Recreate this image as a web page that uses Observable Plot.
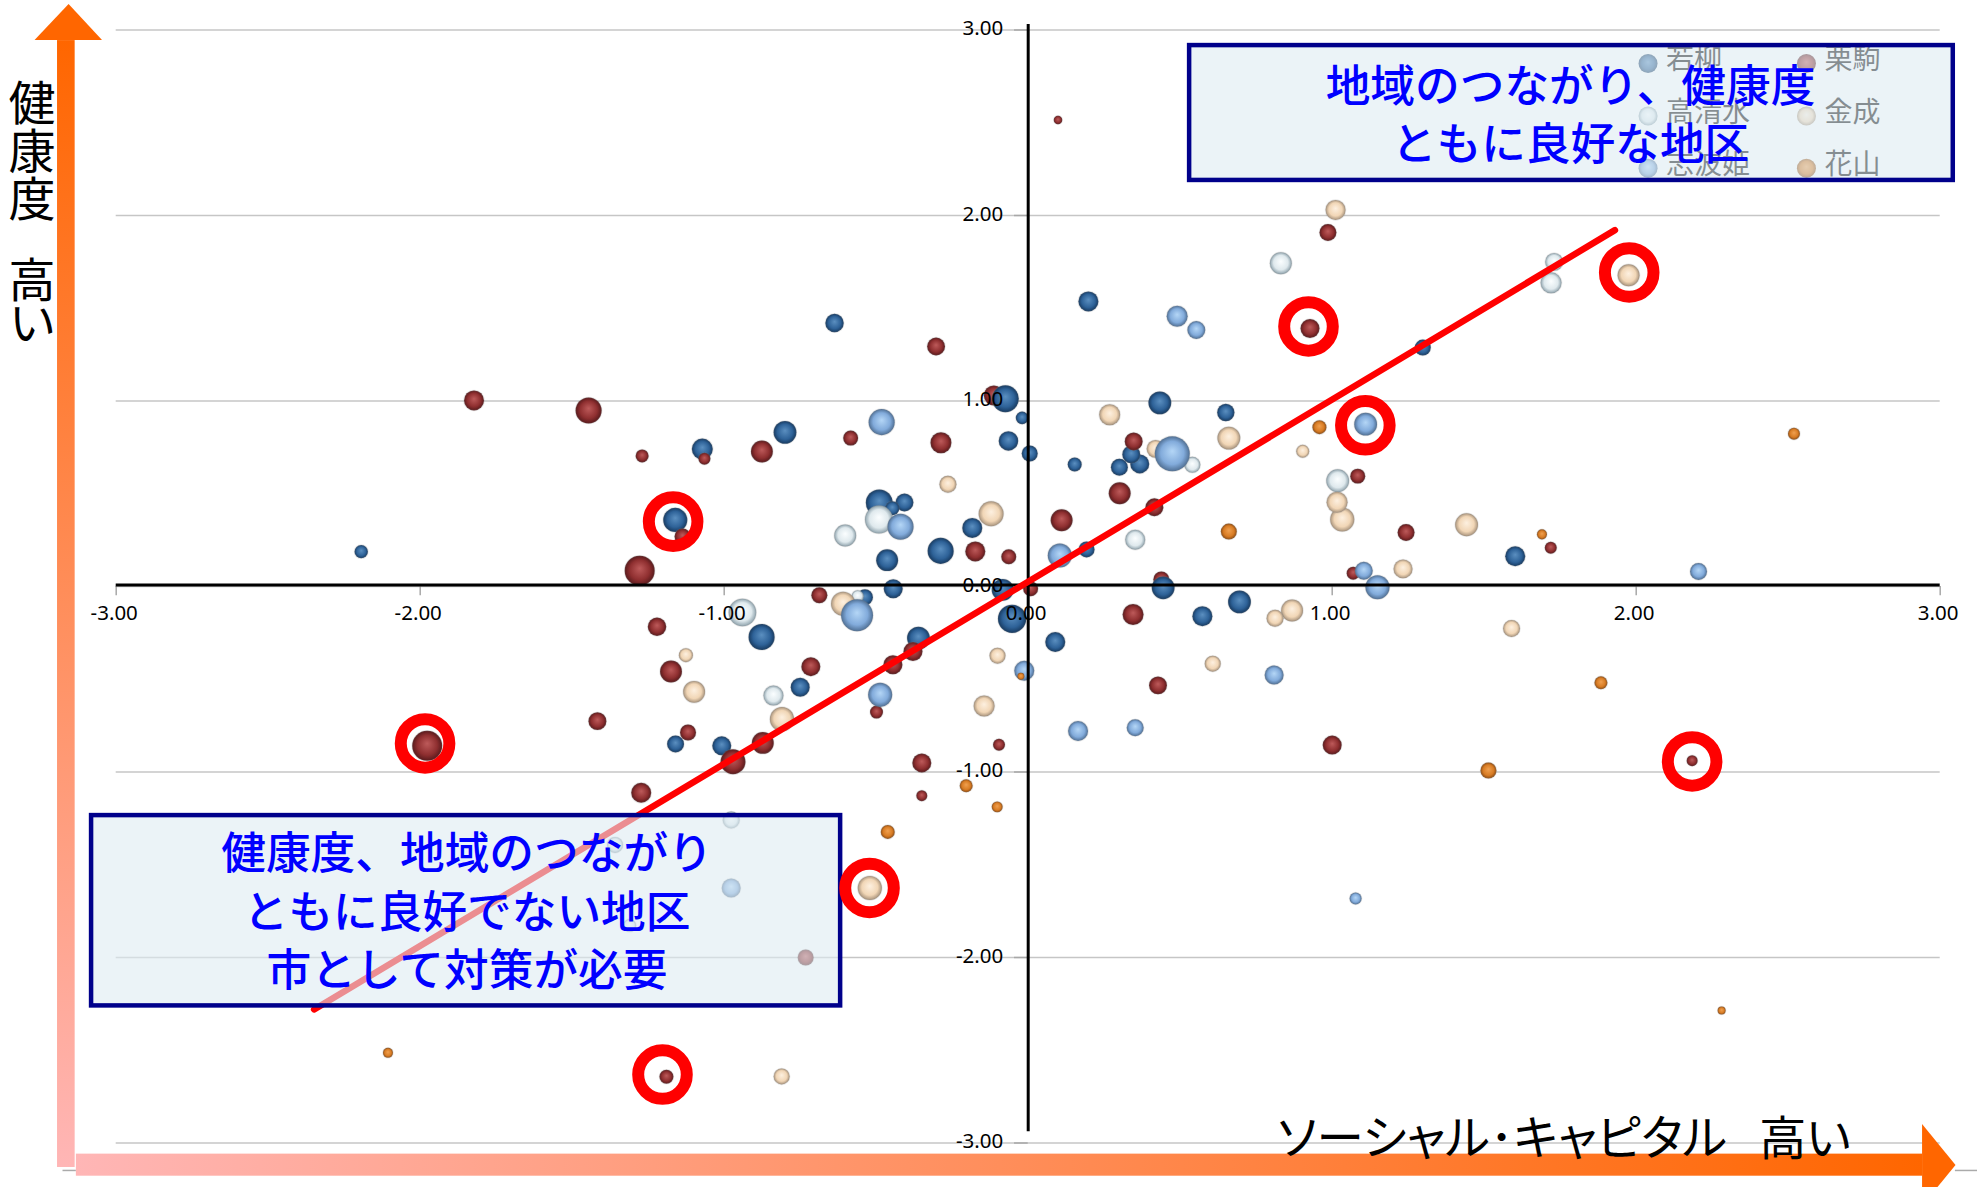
<!DOCTYPE html>
<html lang="ja">
<head>
<meta charset="utf-8">
<title>ソーシャル・キャピタルと健康度</title>
<style>
  html, body { margin: 0; padding: 0; background: #fff; }
  svg { display: block; }
</style>
<script src="https://cdn.jsdelivr.net/npm/d3@7"></script>
<script src="https://cdn.jsdelivr.net/npm/@observablehq/plot@0.6"></script>
</head>
<body>
<div id="chart"></div>
<script>
// Each district is [social capital score, health score, bubble size].
const wakayanagi = [
  [-2.194,0.188,45],[-0.637,1.42,85],[0.198,1.537,100],[-1.072,0.741,110],[-0.8,0.831,130],
  [-0.02,0.909,40],[-0.065,0.785,95],[0.005,0.717,64],[0.153,0.658,49],[0.433,0.99,130],
  [0.65,0.938,75],[0.339,0.712,80],[0.3,0.643,72],[0.367,0.661,90],[-0.49,0.451,180],
  [-0.407,0.453,80],[-0.447,0.422,49],[-0.184,0.316,100],[-0.288,0.192,170],[-0.464,0.142,120],
  [-0.444,-0.012,90],[-0.537,-0.058,64],[-0.084,-0.018,120],[-0.053,-0.174,200],[0.192,0.2,64],
  [0.695,-0.083,130],[0.573,-0.16,100],[1.298,1.288,64],[1.602,0.163,100],[-0.877,-0.272,170],
  [-0.75,-0.543,90],[-0.361,-0.278,130],[0.089,-0.299,100],[-1.16,-0.849,72],[-1.008,-0.859,90],
  [-1.161,0.359,145]
];
// Two Wakayanagi districts sit in front of the Kurikoma bubbles they overlap.
const wakayanagiFront = [[-0.075,1.012,180],[0.444,-0.007,130]];
const kurikoma = [
  [-1.823,1.003,100],[-1.446,0.949,170],[-1.27,0.704,42],[-1.278,0.085,225],[-1.065,0.689,36],
  [-0.876,0.728,120],[-0.584,0.8,56],[-0.287,0.775,110],[-0.303,1.294,80],[0.098,2.515,18],
  [-0.113,1.03,100],[-0.174,0.189,100],[-0.064,0.16,56],[-0.687,-0.047,64],[0.008,-0.012,56],
  [0.11,0.357,120],[0.347,0.782,80],[0.301,0.503,120],[0.415,0.427,80],[0.438,0.038,64],
  [0.345,-0.151,110],[1.084,0.595,56],[1.069,0.072,42],[0.927,1.391,90],[0.986,1.908,72],
  [1.243,0.291,72],[1.719,0.209,36],[-1.137,0.27,64],[-1.977,-0.859,225],[-1.417,-0.726,80],
  [-1.273,-1.112,100],[-1.221,-0.217,85],[-1.175,-0.458,120],[-1.119,-0.787,64],[-0.715,-0.432,90],
  [-0.873,-0.843,120],[-0.971,-0.945,155],[-0.445,-0.422,90],[-0.379,-0.35,90],[-0.499,-0.677,42],
  [-0.35,-0.951,90],[-0.35,-1.128,30],[-0.096,-0.853,36],[0.427,-0.533,80],[1.0,-0.855,90],
  [2.184,-0.939,30],[-1.19,-2.643,49],[-0.732,-2.0,64]
];
const takashimizu = [
  [0.831,1.743,120],[1.73,1.75,80],[1.72,1.637,110],[0.54,0.656,64],[-0.602,0.275,120],
  [-0.491,0.361,195],[0.352,0.252,100],[1.018,0.57,130],[-0.94,-0.14,190],[-0.838,-0.588,100],
  [-0.977,-1.259,72],[-0.561,-0.052,36],[-1.359,-1.393,64],[-1.311,-1.828,42]
];
const kannari = [
  [1.011,2.03,100],[1.975,1.678,120],[0.268,0.926,110],[0.66,0.8,130],[0.903,0.729,42],
  [0.419,0.742,80],[1.016,0.454,110],[1.033,0.361,145],[1.442,0.333,130],[1.233,0.095,90],
  [0.868,-0.129,120],[0.812,-0.171,72],[-0.264,0.551,72],[-0.122,0.392,155],[-0.609,-0.093,145],
  [-1.126,-0.37,49],[-1.099,-0.568,120],[-0.81,-0.715,145],[-0.101,-0.373,64],[-0.145,-0.644,110],
  [0.607,-0.416,64],[1.59,-0.226,72],[-0.521,-1.625,145],[-0.811,-2.641,64]
];
const shiwahime = [
  [0.49,1.457,110],[0.553,1.383,80],[-0.482,0.886,170],[-0.42,0.322,170],[0.104,0.167,145],
  [0.474,0.715,306],[1.11,0.875,130],[1.104,0.085,80],[1.149,-0.004,145],[2.205,0.081,72],
  [-0.563,-0.155,256],[-0.487,-0.584,145],[-0.013,-0.454,100],[0.164,-0.779,100],[0.352,-0.761,72],
  [0.809,-0.477,90],[-0.977,-1.625,90],[1.077,-1.682,36]
];
const hanayama = [
  [2.519,0.824,36],[0.958,0.859,49],[0.66,0.296,64],[1.69,0.281,25],[-0.204,-1.074,42],
  [-0.102,-1.188,30],[-0.462,-1.323,49],[1.514,-0.992,64],[1.884,-0.519,42],[2.281,-2.286,16],
  [-2.106,-2.514,25],[-0.024,-0.484,12]
];

// Districts picked out with a red ring.
const highlighted = [
  [0.922,1.402],[1.977,1.693],[1.109,0.869],[-1.168,0.35],
  [-1.984,-0.846],[2.184,-0.943],[-0.522,-1.625],[-1.203,-2.631]
];
const trendLine = [[-2.349,-2.28],[1.93,1.921]];

const axisTicks = [-3,-2,-1,0,1,2,3];

const legendEntries = [
  {name:"若柳",   x:2.039, y:2.819, fill:"url(#sphere-wakayanagi)"},
  {name:"高清水", x:2.039, y:2.536, fill:"url(#sphere-takashimizu)"},
  {name:"志波姫", x:2.039, y:2.255, fill:"url(#sphere-shiwahime)"},
  {name:"栗駒",   x:2.56,  y:2.819, fill:"url(#sphere-kurikoma)"},
  {name:"金成",   x:2.56,  y:2.536, fill:"url(#sphere-kannari)"},
  {name:"花山",   x:2.56,  y:2.255, fill:"url(#sphere-hanayama)"}
];

// Note boxes and their captions.
const noteBoxes = [
  {x1:0.531, x2:3.043, y1:2.916, y2:2.189},
  {x1:-3.081, x2:-0.617, y1:-1.235, y2:-2.261}
];
const noteLines = [
  {text:"地域のつながり、健康度",   x:1.784,  y:2.689},
  {text:"ともに良好な地区",         x:1.784,  y:2.379},
  {text:"健康度、地域のつながり",   x:-1.846, y:-1.448},
  {text:"ともに良好でない地区",     x:-1.846, y:-1.763},
  {text:"市として対策が必要",       x:-1.846, y:-2.074}
];

// Outer axis arrows, in score units.
const arrowUpShaft   = [{x1:-3.193, x2:-3.135, y1:2.943, y2:-3.132}];
const arrowUpHead    = [{y:2.943, x1:-3.267, x2:-3.045}, {y:3.137, x1:-3.155, x2:-3.155}];
const arrowRightShaft = [{x1:-3.131, x2:2.942, y1:-3.06, y2:-3.179}];
const arrowRightHead  = [{x:2.942, y1:-2.9, y2:-3.342}, {x:3.052, y1:-3.121, y2:-3.121}];
const cornerStubs = [{x1:3.05, x2:3.14, y:-3.148}, {x1:-3.175, x2:-3.131, y:-3.148}];

const sansFont = "'Noto Sans', sans-serif";
const cjkFont = "'Noto Sans CJK JP', sans-serif";

const sphereColors = {
  wakayanagi:   ["#5b8fc0", "#2e6298", "#173a60"],
  kurikoma:     ["#bd5a5a", "#8f2f30", "#581a1c"],
  takashimizu:  ["#fbfeff", "#dfe9ed", "#8ea2ac"],
  kannari:      ["#fdf0e0", "#f1d6b6", "#a8937c"],
  shiwahime:    ["#b4d6f6", "#82abdb", "#4f6f94"],
  hanayama:     ["#f0a050", "#d87c24", "#8f4c12"]
};

// Shaded sphere fills and the orange fades of the axis arrows.
function gradients() {
  const defs = d3.create("svg:defs");
  for (const [name, [inner, mid, outer]] of Object.entries(sphereColors)) {
    const g = defs.append("radialGradient")
      .attr("id", `sphere-${name}`)
      .attr("cx", 0.5).attr("cy", 0.5).attr("r", 0.5)
      .attr("fx", 0.5).attr("fy", 0.42);
    g.append("stop").attr("offset", "0%").attr("stop-color", inner);
    g.append("stop").attr("offset", "66%").attr("stop-color", mid);
    g.append("stop").attr("offset", "100%").attr("stop-color", outer);
  }
  const up = defs.append("linearGradient").attr("id", "fade-up")
    .attr("x1", 0).attr("y1", 1).attr("x2", 0).attr("y2", 0);
  const right = defs.append("linearGradient").attr("id", "fade-right")
    .attr("x1", 0).attr("y1", 0).attr("x2", 1).attr("y2", 0);
  for (const g of [up, right]) {
    g.append("stop").attr("offset", "0%").attr("stop-color", "#ffb6b6");
    g.append("stop").attr("offset", "100%").attr("stop-color", "#ff6600");
  }
  return defs.node();
}

// One series of shaded bubbles.
const bubbles = (rows, name) => Plot.dot(rows, {
  x: d => d[0], y: d => d[1], r: d => d[2],
  fill: `url(#sphere-${name})`,
  stroke: "#888", strokeOpacity: 0.2, strokeWidth: 1.5
});

const chart = Plot.plot({
  width: 1977, height: 1187,
  marginTop: 29.5, marginBottom: 44.5, marginLeft: 115.7, marginRight: 37.3,
  x: {domain: [-3, 3], axis: null},
  y: {domain: [-3, 3], axis: null},
  r: {type: "sqrt", domain: [0, 306], range: [0, 17.5]},
  style: {fontFamily: sansFont, background: "#fff", overflow: "hidden"},
  marks: [
    gradients,
    // gridlines and tick marks
    Plot.ruleY(axisTicks, {y: d => d, x1: -3, x2: 3, stroke: "#c6c6c6", strokeWidth: 1.6}),
    Plot.ruleY(axisTicks, {y: d => d, x1: -0.045, x2: 0, stroke: "#a8a8a8", strokeWidth: 1.5}),
    Plot.ruleX(axisTicks, {x: d => d, y1: 0, y2: -0.05, stroke: "#a8a8a8", strokeWidth: 1.5}),
    Plot.ruleY(cornerStubs, {y: "y", x1: "x1", x2: "x2", stroke: "#aaa", strokeWidth: 1.5}),
    // bubbles
    bubbles(wakayanagi, "wakayanagi"),
    bubbles(kurikoma, "kurikoma"),
    bubbles(wakayanagiFront, "wakayanagi"),
    bubbles(takashimizu, "takashimizu"),
    bubbles(kannari, "kannari"),
    bubbles(shiwahime, "shiwahime"),
    bubbles(hanayama, "hanayama"),
    // black cross axes
    Plot.ruleY([0], {x1: -3, x2: 3, stroke: "#000", strokeWidth: 3, dy: -1.5}),
    Plot.ruleX([0], {y1: -2.94, y2: 3.03, stroke: "#000", strokeWidth: 3}),
    // tick labels
    Plot.text(axisTicks, {x: d => d, y: 0, dy: 27, dx: -2, text: d => d.toFixed(2),
      fontSize: 20.5, fill: "#000"}),
    Plot.text(axisTicks, {x: 0, y: d => d, dx: -25, dy: -1.5, textAnchor: "end", text: d => d.toFixed(2),
      fontSize: 20.5, fill: "#000"}),
    // trend line
    Plot.line(trendLine, {x: d => d[0], y: d => d[1], stroke: "#ff0000", strokeWidth: 6.5}),
    // legend, washed out by the note box above it
    Plot.dot(legendEntries, {x: "x", y: "y", r: 9.5, fill: "fill"}),
    Plot.text(legendEntries, {x: d => d.x + 0.059, y: d => d.y + 0.017, text: "name", textAnchor: "start",
      fontFamily: cjkFont, fontSize: 28, fill: "#000"}),
    // outer arrows
    Plot.rect(arrowUpShaft, {x1: "x1", x2: "x2", y1: "y1", y2: "y2", fill: "url(#fade-up)"}),
    Plot.areaX(arrowUpHead, {y: "y", x1: "x1", x2: "x2", fill: "#ff6600"}),
    Plot.rect(arrowRightShaft, {x1: "x1", x2: "x2", y1: "y1", y2: "y2", fill: "url(#fade-right)"}),
    Plot.areaY(arrowRightHead, {x: "x", y1: "y1", y2: "y2", fill: "#ff6600"}),
    // axis captions
    Plot.text(["健\n康\n度"], {x: -3.277, y: 2.34, text: d => d, fontFamily: cjkFont,
      fontSize: 47, lineHeight: 1.02, fill: "#000"}),
    Plot.text(["高\nい"], {x: -3.277, y: 1.52, text: d => d, fontFamily: cjkFont,
      fontSize: 47, lineHeight: 0.92, fill: "#000"}),
    Plot.text(["ソーシャル･キャピタル"], {x: 0.82, y: -2.985, text: d => d, textAnchor: "start",
      fontFamily: cjkFont, fontSize: 47.5, fill: "#000"}),
    Plot.text(["高い"], {x: 2.405, y: -2.985, text: d => d, textAnchor: "start",
      fontFamily: cjkFont, fontSize: 47, fill: "#000"}),
    // note boxes let the chart show through
    Plot.rect(noteBoxes, {x1: "x1", x2: "x2", y1: "y1", y2: "y2",
      fill: "rgb(221,235,241)", fillOpacity: 0.6, stroke: "#00008b", strokeWidth: 4.5}),
    Plot.text(noteLines, {x: "x", y: "y", text: "text", fontFamily: cjkFont, fontSize: 44.7,
      fontWeight: 500, fill: "#0000ff"}),
    // rings around the highlighted districts
    Plot.dot(highlighted, {x: d => d[0], y: d => d[1], r: 24.3, stroke: "#ff0000", strokeWidth: 12, fill: "none"})
  ]
});

// The kana captions use proportional glyph spacing.
d3.select(chart).selectAll("text")
  .filter(function () { return /シャル|^高い$/.test(this.textContent); })
  .style("font-feature-settings", '"palt"');

document.getElementById("chart").append(chart);
</script>
</body>
</html>
